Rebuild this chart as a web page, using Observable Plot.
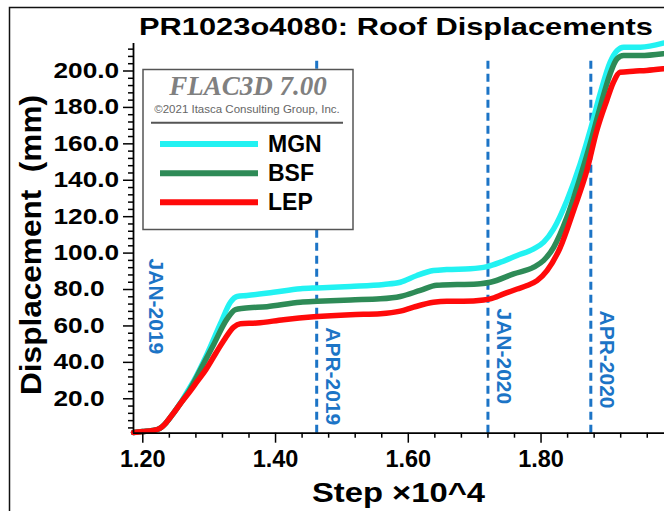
<!DOCTYPE html>
<html>
<head>
<meta charset="utf-8">
<script src="https://cdn.jsdelivr.net/npm/d3@7"></script>
<script src="https://cdn.jsdelivr.net/npm/@observablehq/plot@0.6"></script>
<style>
  html, body { margin: 0; padding: 0; background: #fff; }
  #chart { position: relative; width: 664px; height: 511px; overflow: hidden; }
</style>
</head>
<body>
<div id="chart"></div>
<script>
// ---------- DATA (step in units of 10^4, displacement in mm) ----------
const seriesNames = ["MGN", "BSF", "LEP"];
const seriesColors = ["#22f2f2", "#2e8b57", "#ff0a0a"];

const MGN = [
  [1.186, 1.5], [1.200, 2.0], [1.215, 2.6], [1.225, 3.6], [1.235, 6.8], [1.246, 12.0],
  [1.257, 17.8], [1.268, 24.5], [1.277, 30.0], [1.297, 44.7], [1.317, 61.2], [1.332, 73.0],
  [1.342, 76.2], [1.357, 76.7], [1.397, 78.5], [1.4375, 80.4], [1.463, 80.9], [1.513, 81.7],
  [1.563, 82.8], [1.588, 84.0], [1.613, 87.7], [1.638, 90.4], [1.658, 91.0], [1.6935, 91.4],
  [1.7187, 92.6], [1.739, 95.0], [1.764, 98.7], [1.789, 102.3], [1.804, 106.0], [1.819, 113.3],
  [1.839, 128.9], [1.859, 149.0], [1.874, 167.3], [1.889, 187.5], [1.904, 204.8], [1.9145, 211.2],
  [1.9245, 213.1], [1.9496, 213.1], [1.984, 215.3]
];
const BSF = [
  [1.186, 1.5], [1.200, 2.0], [1.215, 2.6], [1.225, 3.6], [1.235, 6.8], [1.246, 12.0],
  [1.257, 17.6], [1.270, 24.5], [1.287, 36.0], [1.307, 50.0], [1.327, 63.9], [1.3396, 69.0],
  [1.352, 69.7], [1.387, 70.6], [1.4375, 73.0], [1.463, 73.5], [1.513, 74.3], [1.558, 74.9],
  [1.588, 76.2], [1.618, 79.5], [1.643, 82.3], [1.6735, 82.7], [1.7086, 83.2], [1.7236, 84.0],
  [1.7587, 88.6], [1.789, 92.3], [1.804, 96.0], [1.819, 103.2], [1.839, 119.7], [1.859, 141.7],
  [1.874, 160.0], [1.889, 180.1], [1.904, 198.4], [1.9145, 206.7], [1.9245, 208.5], [1.9496, 208.5],
  [1.984, 209.5]
];
const LEP = [
  [1.186, 1.5], [1.200, 2.0], [1.215, 2.6], [1.225, 3.6], [1.235, 6.8], [1.246, 12.0],
  [1.257, 17.5], [1.270, 23.5], [1.282, 29.5], [1.295, 36.0], [1.310, 45.0], [1.322, 52.0],
  [1.337, 59.4], [1.347, 61.2], [1.372, 61.6], [1.412, 63.4], [1.4575, 65.0], [1.513, 66.2],
  [1.558, 66.7], [1.588, 68.1], [1.608, 70.3], [1.638, 73.0], [1.658, 73.6], [1.683, 73.6],
  [1.7135, 74.3], [1.7236, 74.9], [1.7437, 77.6], [1.764, 80.3], [1.779, 82.2], [1.794, 84.9],
  [1.809, 90.4], [1.829, 103.2], [1.849, 123.4], [1.869, 145.3], [1.884, 167.3], [1.899, 183.8],
  [1.909, 193.8], [1.919, 199.3], [1.939, 199.9], [1.959, 200.3], [1.984, 201.2]
];

const eventNames = ["JAN-2019", "APR-2019", "JAN-2020", "APR-2020"];
const eventSteps = [1.186, 1.462, 1.720, 1.875];
const eventLabelTops = [97.0, 59.3, 69.6, 68.5];   // where each vertical label starts (mm)

const xTickValues = [1.20, 1.40, 1.60, 1.80];
const yTickValues = [20, 40, 60, 80, 100, 120, 140, 160, 180, 200];

const titleText = "PR1023o4080: Roof Displacements";
const xLabelText = "Step \u00d710^4";
const yLabelText = "Displacement  (mm)";
const legendTitle = "FLAC3D 7.00";
const legendCopyright = "\u00a92021 Itasca Consulting Group, Inc.";

// ---------- BUILD ----------
const xDomain = [1.186, 1.986];
const yDomain = [1.1, 215.1];
const blue = "#1c74c6";
const FONT = "'Liberation Sans', Arial, Helvetica, sans-serif";

const seriesData = [MGN, BSF, LEP];
const events = eventNames.map((name, i) => ({name, step: eventSteps[i], top: eventLabelTops[i]}));

const xMinor = d3.range(1.20, 1.97, 0.04).map(v => +v.toFixed(2)).filter(v => !xTickValues.some(t => Math.abs(t - v) < 1e-6));
const yMinor = d3.range(4, 215, 4).filter(v => v % 20 !== 0);

const plot = Plot.plot({
  width: 664,
  height: 511,
  marginLeft: 133,
  marginRight: 0,
  marginTop: 43,
  marginBottom: 78.3,
  x: {domain: xDomain, label: null},
  y: {domain: yDomain, label: null},
  style: {fontFamily: FONT, background: "#fff", color: "#000", overflow: "visible"},
  marks: [
    // event lines
    Plot.ruleX(events.filter(e => e.step > xDomain[0] + 0.005), {
      x: "step", y1: yDomain[0], y2: 207.5,
      stroke: blue, strokeWidth: 3, strokeDasharray: "8,5"
    }),
    // event labels
    Plot.text(events.slice(0, 1), {
      x: "step", y: "top", text: "name", rotate: 90, textAnchor: "start", lineAnchor: "middle",
      dx: 22, fill: blue, fontSize: 21, fontWeight: "bold"
    }),
    Plot.text(events.slice(1), {
      x: "step", y: "top", text: "name", rotate: 90, textAnchor: "start", lineAnchor: "middle",
      dx: 16, fill: blue, fontSize: 21, fontWeight: "bold"
    }),
    // series lines (MGN underneath, LEP on top)
    ...seriesData.map((d, i) => Plot.line(d, {
      x: p => p[0], y: p => p[1], stroke: seriesColors[i], strokeWidth: 5.5,
      curve: "monotone-x", strokeLinejoin: "round", strokeLinecap: "round"
    })),
    // axes: minor ticks
    Plot.axisX(xMinor, {anchor: "bottom", tickSize: 5, tickFormat: () => "", label: null, strokeWidth: 1.5}),
    Plot.axisY(yMinor, {anchor: "left", tickSize: 5, tickFormat: () => "", label: null, strokeWidth: 1.5}),
    // axes: major ticks + labels
    Plot.axisX(xTickValues, {
      anchor: "bottom", tickSize: 10, tickPadding: 7, tickFormat: d => d.toFixed(2),
      fontSize: 23.5, fontWeight: "bold", label: null, strokeWidth: 1.5
    }),
    Plot.axisY(yTickValues, {
      anchor: "left", tickSize: 10, tickPadding: 70, textAnchor: "start", tickFormat: d => d.toFixed(1),
      fontSize: 21.5, fontWeight: "bold", label: null, strokeWidth: 1.5
    }),
    // axis lines
    Plot.ruleX([xDomain[0]], {stroke: "#000", strokeWidth: 1.8}),
    Plot.ruleY([yDomain[0]], {stroke: "#000", strokeWidth: 1.8})
  ]
});

document.getElementById("chart").appendChild(plot);
const svg = d3.select(plot);

// stretch y tick labels horizontally as in the reference
svg.selectAll('g[aria-label="y-axis tick label"] text').each(function () {
  const t = this.textContent;
  if (!t) return;
  const len = this.getComputedTextLength();
  d3.select(this).attr("textLength", len * 1.22).attr("lengthAdjust", "spacingAndGlyphs");
});

// outer border
svg.append("rect")
  .attr("x", 9.5).attr("y", 7.5).attr("width", 720).attr("height", 620)
  .attr("fill", "none").attr("stroke", "#111").attr("stroke-width", 1.5);

// title
svg.append("text")
  .attr("x", 139).attr("y", 34.5).attr("text-anchor", "start")
  .attr("font-family", FONT).attr("font-size", 24).attr("font-weight", "bold")
  .attr("fill", "#000")
  .attr("textLength", 514).attr("lengthAdjust", "spacingAndGlyphs")
  .text(titleText);

// x label
svg.append("text")
  .attr("x", 398.5).attr("y", 501.7).attr("text-anchor", "middle")
  .attr("font-family", FONT).attr("font-size", 28).attr("font-weight", "bold")
  .attr("fill", "#000")
  .attr("textLength", 173).attr("lengthAdjust", "spacingAndGlyphs")
  .text(xLabelText);

// y label
svg.append("text")
  .attr("transform", "translate(40.7,245) rotate(-90)")
  .attr("text-anchor", "middle")
  .style("white-space", "pre")
  .attr("font-family", FONT).attr("font-size", 29).attr("font-weight", "bold")
  .attr("fill", "#000")
  .attr("textLength", 300).attr("lengthAdjust", "spacingAndGlyphs")
  .text(yLabelText);

// legend box
const lg = svg.append("g").attr("aria-label", "legend");
lg.append("rect")
  .attr("x", 143).attr("y", 69.5).attr("width", 210).attr("height", 160)
  .attr("fill", "#fff").attr("stroke", "#555").attr("stroke-width", 1.5);
lg.append("text")
  .attr("x", 248).attr("y", 95).attr("text-anchor", "middle")
  .attr("font-family", "'Liberation Serif', 'Times New Roman', serif")
  .attr("font-size", 27).attr("font-weight", "bold").attr("font-style", "italic")
  .attr("fill", "#808080")
  .text(legendTitle);
lg.append("text")
  .attr("x", 247).attr("y", 113.3).attr("text-anchor", "middle")
  .attr("font-family", FONT).attr("font-size", 11.5)
  .attr("fill", "#666")
  .text(legendCopyright);
lg.append("line")
  .attr("x1", 151).attr("x2", 343).attr("y1", 122.7).attr("y2", 122.7)
  .attr("stroke", "#555").attr("stroke-width", 2);
const entryY = [144, 173.3, 202.3];
seriesNames.forEach((name, i) => {
  lg.append("line")
    .attr("x1", 160).attr("x2", 258).attr("y1", entryY[i]).attr("y2", entryY[i])
    .attr("stroke", seriesColors[i]).attr("stroke-width", 6);
  lg.append("text")
    .attr("x", 268).attr("y", entryY[i] + 7.5).attr("text-anchor", "start")
    .attr("font-family", FONT).attr("font-size", 23).attr("font-weight", "bold")
    .attr("fill", "#000")
    .text(name);
});
</script>
</body>
</html>
